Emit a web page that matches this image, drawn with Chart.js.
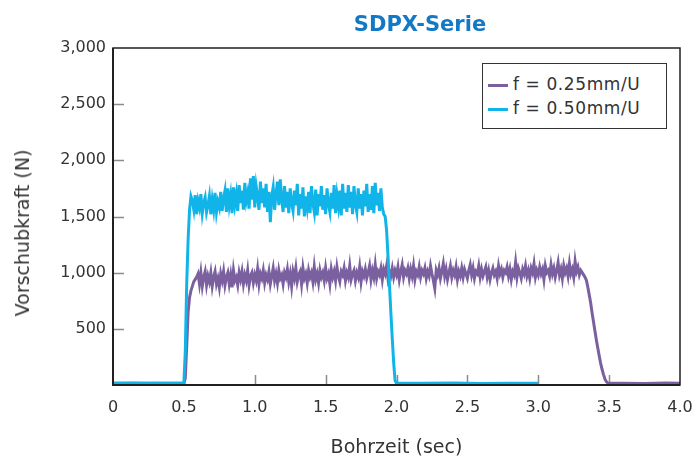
<!DOCTYPE html>
<html>
<head>
<meta charset="utf-8">
<script src="https://cdn.jsdelivr.net/npm/chart.js@4.4.0/dist/chart.umd.min.js"></script>
<style>
    body { margin: 0; background: #fff; }
    #wrap { position: relative; width: 695px; height: 459px; font-family: "DejaVu Sans", sans-serif; }
    #titolo { position: absolute; left: 420px; top: 24px; transform: translate(-50%, -50%); color: #1479c4; font-weight: bold; font-size: 21px; white-space: nowrap; }
    #asseY { position: absolute; left: 22px; top: 233px; transform: translate(-50%, -50%) rotate(-90deg); color: #333; font-size: 19px; white-space: nowrap; }
    #legenda { position: absolute; left: 482px; top: 63px; width: 183px; height: 64px; border: 1.5px solid #333; background: #fff; }
    .voce { position: absolute; left: 5px; height: 22px; line-height: 22px; font-size: 17px; color: #333; white-space: nowrap; letter-spacing: 0.6px; }
    .voce span { display: inline-block; width: 20px; height: 3px; vertical-align: middle; margin-right: 5px; }
</style>
</head>
<body>
<div id="wrap">
    <canvas id="grafico" width="695" height="459"></canvas>
    <div id="titolo">SDPX-Serie</div>
    <div id="asseY">Vorschubkraft (N)</div>
    <div id="legenda"></div>
</div>
<script>
// -------------DATI----------------//
var etichette = ['f = 0.25mm/U', 'f = 0.50mm/U'];
var colori = ['#7a609f', '#10b4e8'];
var xTicks = [0, 0.5, 1.0, 1.5, 2.0, 2.5, 3.0, 3.5, 4.0];
var yTicks = [500, 1000, 1500, 2000, 2500, 3000];
var passo = 0.01; // sec per campione

// f = 0.25mm/U : fermo prima / dopo, poi campioni da 0.50 sec
var violaFermoTempo = [0.0, 0.15, 0.3, 0.45, 3.6, 3.75, 3.9, 4.0];
var violaFermoForza = [15, 17, 14, 16, 16, 14, 17, 15];
var violaInizio = 0.50;
var violaForza = [
    15, 60, 350, 650, 780, 840, 880, 920, 940, 960,
    990, 900, 1000, 880, 960, 1010, 890, 970, 920, 1000,
    880, 960, 1010, 900, 950, 870, 990, 930, 1010, 890,
    960, 1000, 900, 980, 870, 1020, 930, 960, 890, 1000,
    940, 1010, 900, 980, 930, 1020, 890, 970, 1000, 910,
    980, 930, 1030, 900, 990, 950, 1020, 910, 980, 940,
    1010, 900, 970, 1040, 930, 990, 910, 1020, 950, 980,
    900, 1000, 960, 1030, 920, 990, 880, 1010, 950, 1040,
    920, 980, 1010, 900, 1040, 950, 990, 910, 1020, 960,
    1000, 920, 1050, 940, 990, 910, 1020, 960, 1000, 930,
    1040, 950, 990, 900, 1030, 960, 1010, 930, 1050, 970,
    920, 1010, 980, 1040, 930, 1000, 960, 1060, 940, 990,
    1020, 930, 1000, 960, 1050, 920, 1010, 970, 1030, 950,
    1000, 1060, 940, 1020, 960, 1070, 950, 1010, 980, 1040,
    940, 1030, 990, 1060, 950, 1010, 970, 1040, 960, 1020,
    980, 1050, 940, 1010, 1070, 960, 1020, 990, 1040, 950,
    1030, 970, 1060, 940, 1010, 980, 1050, 960, 1020, 990,
    1040, 950, 1010, 970, 1060, 990, 930, 860, 1020, 980,
    1040, 950, 1010, 1080, 970, 1030, 940, 1000, 1060, 960,
    1020, 980, 1050, 940, 1010, 970, 1040, 960, 1030, 990,
    950, 1020, 1070, 980, 1040, 950, 1010, 990, 1060, 960,
    1030, 970, 1010, 1050, 960, 1020, 940, 1000, 1040, 980,
    1010, 950, 1060, 990, 1030, 960, 1020, 1000, 1050, 970,
    1030, 940, 1010, 980, 1090, 960, 1040, 1000, 950, 1030,
    990, 1060, 970, 1020, 950, 1040, 1000, 1080, 960, 1020,
    980, 1050, 990, 1030, 940, 1060, 1000, 1020, 970, 1070,
    990, 1040, 960, 1020, 1090, 980, 1030, 950, 1060, 1000,
    1040, 970, 1080, 990, 1030, 960, 1100, 1010, 1050, 980,
    1020, 1000, 980, 960, 930, 870, 800, 730, 640, 560,
    480, 400, 330, 260, 195, 140, 95, 55, 30, 18,
    15
];

// f = 0.50mm/U
var bluFermoTempo = [0.0, 0.15, 0.3, 0.45, 2.2, 2.4, 2.6, 2.8, 3.0];
var bluFermoForza = [16, 14, 17, 15, 15, 17, 14, 16, 15];
var bluInizio = 0.50;
var bluForza = [
    18, 300, 900, 1300, 1560, 1680, 1640,
    1560, 1690, 1520, 1640, 1580, 1700, 1530, 1620, 1670, 1540,
    1600, 1680, 1520, 1650, 1560, 1710, 1540, 1630, 1580, 1720,
    1550, 1660, 1730, 1540, 1750, 1600, 1690, 1530, 1760, 1610,
    1700, 1550, 1780, 1620, 1730, 1560, 1800, 1640, 1710, 1570,
    1840, 1650, 1860, 1580, 1770, 1680, 1560, 1810, 1620, 1750,
    1580, 1790, 1540, 1720, 1450, 1680, 1760, 1560, 1700, 1810,
    1600, 1830, 1660, 1540, 1770, 1580, 1720, 1530, 1750, 1620,
    1550, 1730, 1600, 1790, 1510, 1700, 1570, 1760, 1500, 1680,
    1580, 1720, 1530, 1770, 1620, 1540, 1740, 1510, 1700, 1590,
    1770, 1560, 1690, 1520, 1750, 1610, 1540, 1710, 1570, 1780,
    1530, 1690, 1590, 1730, 1510, 1790, 1570, 1710, 1540, 1780,
    1580, 1720, 1520, 1770, 1610, 1540, 1750, 1570, 1700, 1510,
    1730, 1590, 1790, 1540, 1700, 1560, 1770, 1530, 1800, 1600,
    1710, 1550, 1750, 1580, 1520,
    1500, 1380, 1150, 900, 650, 420, 200, 40, 16
];

function punti(fermoTempo, fermoForza, inizio, forza) {
    var lista = [];
    for (var i = 0; i < fermoTempo.length; i++) {
        lista.push({ x: fermoTempo[i], y: fermoForza[i] });
    }
    for (var j = 0; j < forza.length; j++) {
        lista.push({ x: +(inizio + j * passo).toFixed(2), y: forza[j] });
    }
    lista.sort(function (a, b) { return a.x - b.x; });
    return lista;
}

// legenda html
var legenda = document.getElementById('legenda');
etichette.forEach(function (testo, i) {
    var voce = document.createElement('div');
    voce.className = 'voce';
    voce.style.top = (9 + i * 24) + 'px';
    voce.innerHTML = '<span style="background:' + colori[i] + '"></span>' + testo;
    legenda.appendChild(voce);
});

// tacche interne e cornice
var cornice = {
    id: 'cornice',
    beforeDatasetsDraw: function (chart) {
        var ctx = chart.ctx, a = chart.chartArea;
        var x = chart.scales.x, y = chart.scales.y;
        ctx.save();
        ctx.strokeStyle = '#8c8c8c';
        ctx.lineWidth = 1.5;
        ctx.beginPath();
        yTicks.forEach(function (v) {
            if (v >= 3000) return;
            var py = Math.round(y.getPixelForValue(v)) + 0.5;
            ctx.moveTo(a.left, py);
            ctx.lineTo(a.left + 11, py);
        });
        xTicks.forEach(function (v) {
            if (v <= 0 || v >= 4) return;
            var px = Math.round(x.getPixelForValue(v)) + 0.5;
            ctx.moveTo(px, a.bottom);
            ctx.lineTo(px, a.bottom - 10);
        });
        ctx.stroke();
        ctx.restore();
    },
    afterDatasetsDraw: function (chart) {
        var ctx = chart.ctx, a = chart.chartArea;
        ctx.save();
        ctx.strokeStyle = '#231f20';
        ctx.lineWidth = 1.5;
        ctx.strokeRect(a.left, a.top, a.right - a.left, a.bottom - a.top);
        ctx.lineWidth = 2;
        ctx.beginPath();
        ctx.moveTo(a.left, a.top);
        ctx.lineTo(a.left, a.bottom);
        ctx.lineTo(a.right, a.bottom);
        ctx.stroke();
        ctx.restore();
    }
};

var ctx = document.getElementById('grafico');
var chart = new Chart(ctx, {
    type: 'line',
    data: {
        datasets: [{
            label: etichette[0],
            borderColor: colori[0],
            data: punti(violaFermoTempo, violaFermoForza, violaInizio, violaForza),
            order: 2
        },
        {
            label: etichette[1],
            borderColor: colori[1],
            data: punti(bluFermoTempo, bluFermoForza, bluInizio, bluForza),
            order: 1
        }]
    },
    options: {
        responsive: false,
        animation: false,
        layout: { padding: { top: 48, right: 15, left: 0, bottom: 0 } },
        elements: {
            point: { radius: 0 },
            line: { borderWidth: 3, tension: 0 }
        },
        plugins: {
            legend: { display: false },
            tooltip: { enabled: false }
        },
        scales: {
            x: {
                type: 'linear',
                min: 0,
                max: 4,
                afterBuildTicks: function (scale) {
                    scale.ticks = xTicks.map(function (v) { return { value: v }; });
                },
                afterFit: function (scale) {
                    scale.height = 74;
                    scale.paddingLeft = 0;
                    scale.paddingRight = 0;
                },
                grid: { display: false, drawTicks: false },
                border: { display: false },
                ticks: {
                    padding: 13,
                    color: '#333',
                    font: { family: 'DejaVu Sans', size: 16 },
                    maxRotation: 0,
                    callback: function (v) { return v === 0 ? '0' : v.toFixed(1); }
                },
                title: {
                    display: true,
                    text: 'Bohrzeit (sec)',
                    color: '#333',
                    font: { family: 'DejaVu Sans', size: 19 },
                    padding: { top: 0, bottom: 0 }
                }
            },
            y: {
                min: 0,
                max: 3000,
                afterBuildTicks: function (scale) {
                    scale.ticks = yTicks.map(function (v) { return { value: v }; });
                },
                afterFit: function (scale) {
                    scale.width = 113;
                    scale.paddingTop = 0;
                    scale.paddingBottom = 0;
                },
                grid: { display: false, drawTicks: false },
                border: { display: false },
                ticks: {
                    padding: 7,
                    color: '#333',
                    font: { family: 'DejaVu Sans', size: 16 },
                    callback: function (v) { return v.toLocaleString('en-US'); }
                }
            }
        }
    },
    plugins: [cornice]
});
</script>
</body>
</html>
